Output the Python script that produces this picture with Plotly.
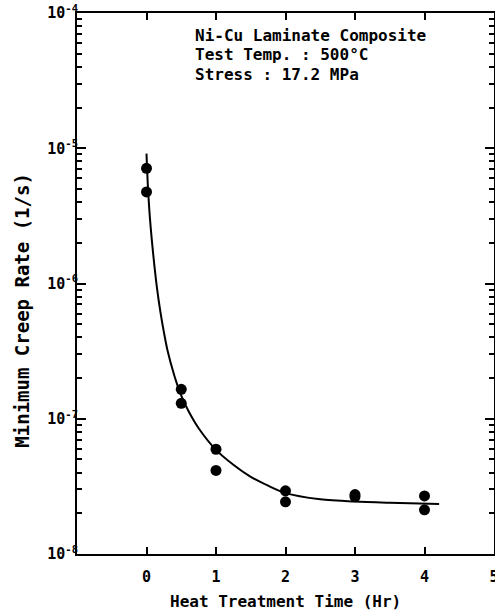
import plotly.graph_objects as go

# Measured data points (heat treatment time in hr, minimum creep rate 1/s)
time_hr = [0, 0, 0.5, 0.5, 1, 1, 2, 2, 3, 3, 4, 4]
creep_rate = [7.1e-6, 4.75e-6, 1.65e-7, 1.3e-7, 5.95e-8, 4.15e-8,
              2.93e-8, 2.43e-8, 2.75e-8, 2.65e-8, 2.69e-8, 2.12e-8]

# Trend curve
curve_x = [0.0, 0.02, 0.05, 0.1, 0.15, 0.2, 0.25, 0.3, 0.4, 0.5, 0.6, 0.75,
           1.0, 1.25, 1.5, 1.75, 2.0, 2.5, 3.0, 3.5, 4.21]
curve_y = [9.12e-6, 5.25e-6, 3.02e-6, 1.58e-6, 9.33e-7, 6.17e-7, 4.37e-7,
           3.24e-7, 2.09e-7, 1.48e-7, 1.15e-7, 8.51e-8, 5.89e-8, 4.57e-8,
           3.72e-8, 3.20e-8, 2.82e-8, 2.54e-8, 2.44e-8, 2.39e-8, 2.34e-8]

x_ticks = [0, 1, 2, 3, 4, 5]
x_ticktext = ["0", "1", "2", "3", "4", "5"]
y_ticks = [1e-8, 1e-7, 1e-6, 1e-5, 1e-4]
y_ticktext = ["10<sup>-8</sup>", "10<sup>-7</sup>", "10<sup>-6</sup>",
              "10<sup>-5</sup>", "10<sup>-4</sup>"]

info_lines = ["Ni-Cu Laminate Composite", "Test Temp. : 500°C", "Stress : 17.2 MPa"]

FONT = "DejaVu Sans Mono"

fig = go.Figure()
fig.add_trace(go.Scatter(x=curve_x, y=curve_y, mode="lines",
                         line=dict(color="black", width=2, shape="spline", smoothing=0.8),
                         showlegend=False, hoverinfo="skip"))
fig.add_trace(go.Scatter(x=time_hr, y=creep_rate, mode="markers",
                         marker=dict(color="black", size=11, line=dict(width=0)),
                         showlegend=False))

fig.update_xaxes(range=[-1, 5], tickvals=x_ticks, ticktext=x_ticktext,
                 ticks="inside", ticklen=7, tickwidth=1.5, tickcolor="black",
                 showline=True, linecolor="black", linewidth=2, mirror="ticks",
                 showgrid=False, zeroline=False, ticklabeloverflow="allow",
                 ticklabelstandoff=8, automargin=False,
                 tickfont=dict(family=FONT, size=15, color="black", weight="bold"))
fig.update_yaxes(type="log", range=[-8, -4], tickvals=y_ticks, ticktext=y_ticktext,
                 ticks="inside", ticklen=9, tickwidth=1.5, automargin=False,
                 ticklabelstandoff=-6,
                 tickcolor="black", showline=True, linecolor="black", linewidth=2,
                 mirror="ticks", showgrid=False, zeroline=False,
                 minor=dict(ticks="inside", ticklen=5, tickwidth=1.5, tickcolor="black",
                            dtick="D1", showgrid=False),
                 tickfont=dict(family=FONT, size=15, color="black", weight="bold"))

ys = [0.9575, 0.9224, 0.8854]
for txt, yy in zip(info_lines, ys):
    fig.add_annotation(text=txt, xref="paper", yref="paper", x=0.278, y=yy,
                       xanchor="left", yanchor="middle", showarrow=False,
                       font=dict(family=FONT, size=16, color="black", weight="bold"))

fig.add_annotation(text="Heat Treatment Time (Hr)", xref="paper", yref="paper",
                   x=0.5, y=-0.087, xanchor="center", yanchor="middle", showarrow=False,
                   font=dict(family=FONT, size=16, color="black", weight="bold"))
fig.add_annotation(text="Minimum Creep Rate (1/s)", xref="paper", yref="paper",
                   x=-0.134, y=0.45, xanchor="center", yanchor="middle", showarrow=False,
                   textangle=-90, font=dict(family=FONT, size=19, color="black", weight="bold"))

fig.update_layout(width=495, height=612, margin=dict(l=77, r=1, t=13, b=58),
                  plot_bgcolor="white", paper_bgcolor="white")

fig.write_html("out.html")
